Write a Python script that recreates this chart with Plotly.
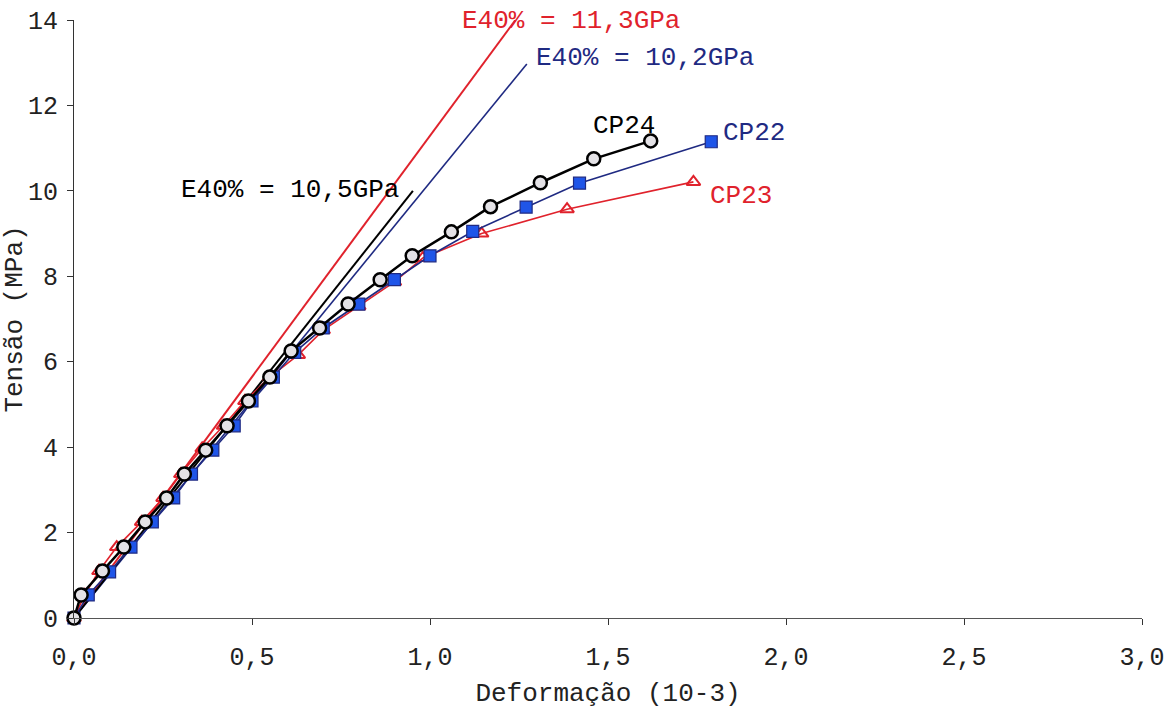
import plotly.graph_objects as go

# ---- data (strain in 10^-3, stress in MPa) ----
cp24_x = [0, 0.02, 0.08, 0.14, 0.20, 0.26, 0.31, 0.37, 0.43, 0.49, 0.55, 0.61, 0.69, 0.77, 0.86, 0.95, 1.06, 1.17, 1.31, 1.46, 1.62]
cp24_y = [0, 0.54, 1.10, 1.66, 2.25, 2.81, 3.37, 3.93, 4.50, 5.08, 5.64, 6.25, 6.79, 7.35, 7.92, 8.48, 9.04, 9.63, 10.19, 10.75, 11.17]

cp22_x = [0, 0.04, 0.10, 0.16, 0.22, 0.28, 0.33, 0.39, 0.45, 0.50, 0.56, 0.62, 0.70, 0.80, 0.90, 1.00, 1.12, 1.27, 1.42, 1.79]
cp22_y = [0, 0.54, 1.08, 1.66, 2.25, 2.81, 3.37, 3.93, 4.50, 5.08, 5.64, 6.22, 6.79, 7.35, 7.92, 8.48, 9.05, 9.62, 10.18, 11.15]

cp23_x = [0, 0.03, 0.07, 0.12, 0.19, 0.25, 0.30, 0.36, 0.42, 0.48, 0.55, 0.63, 0.70, 0.80, 0.90, 0.98, 1.145, 1.385, 1.74]
cp23_y = [0, 0.54, 1.10, 1.66, 2.25, 2.81, 3.37, 3.97, 4.50, 5.08, 5.64, 6.16, 6.74, 7.30, 7.87, 8.43, 9.00, 9.57, 10.21]

# secant modulus lines (E40%)
sec23_x = [0, 1.24]
sec23_y = [0, 14.0]
sec22_x = [0, 1.272]
sec22_y = [0, 12.97]
sec24_x = [0, 0.952]
sec24_y = [0, 10.0]

x_ticks = [0, 0.5, 1.0, 1.5, 2.0, 2.5, 3.0]
y_ticks = [0, 2, 4, 6, 8, 10, 12, 14]

RED = "#e0222c"
NAVY = "#1f2a82"
BLUE = "#1f55e8"
MONO = "Liberation Mono, Courier New, monospace"

fig = go.Figure()

# secant lines
fig.add_trace(go.Scatter(x=sec23_x, y=sec23_y, mode="lines", line=dict(color=RED, width=2), showlegend=False, cliponaxis=False))
fig.add_trace(go.Scatter(x=sec22_x, y=sec22_y, mode="lines", line=dict(color=NAVY, width=1.6), showlegend=False))
fig.add_trace(go.Scatter(x=sec24_x, y=sec24_y, mode="lines", line=dict(color="black", width=2), showlegend=False))

# curves
fig.add_trace(go.Scatter(
    x=cp23_x, y=cp23_y, mode="lines+markers", name="CP23",
    line=dict(color=RED, width=1.6),
    marker=dict(symbol="triangle-up-open", size=12, color=RED, line=dict(color=RED, width=2)),
    showlegend=False, cliponaxis=False))
fig.add_trace(go.Scatter(
    x=cp22_x, y=cp22_y, mode="lines+markers", name="CP22",
    line=dict(color=NAVY, width=1.6),
    marker=dict(symbol="square", size=12, color=BLUE, line=dict(color=NAVY, width=1.2)),
    showlegend=False, cliponaxis=False))
fig.add_trace(go.Scatter(
    x=cp24_x, y=cp24_y, mode="lines+markers", name="CP24",
    line=dict(color="black", width=2.5),
    marker=dict(symbol="circle", size=13, color="#e4e2e6", line=dict(color="black", width=2.5)),
    showlegend=False, cliponaxis=False))

ann_font = dict(family=MONO, size=26)
annotations = [
    dict(x=1.396, y=13.98 / 14.0, yref="paper", text="E40% = 11,3GPa", font=dict(ann_font, color=RED)),
    dict(x=1.604, y=13.11, yref="y", text="E40% = 10,2GPa", font=dict(ann_font, color=NAVY)),
    dict(x=0.607, y=10.02, yref="y", text="E40% = 10,5GPa", font=dict(ann_font, color="black")),
    dict(x=1.545, y=11.52, yref="y", text="CP24", font=dict(ann_font, color="black")),
    dict(x=1.91, y=11.36, yref="y", text="CP22", font=dict(ann_font, color=NAVY)),
    dict(x=1.874, y=9.88, yref="y", text="CP23", font=dict(ann_font, color=RED)),
]
for a in annotations:
    a.update(xref="x", showarrow=False, xanchor="center", yanchor="middle")

fig.update_layout(
    width=1171, height=714,
    paper_bgcolor="white", plot_bgcolor="white",
    margin=dict(l=74, r=29, t=20, b=96, autoexpand=False),
    separators=",.",
    annotations=annotations,
    xaxis=dict(
        range=[0, 3.0], tickvals=x_ticks, tickformat=".1f",
        showgrid=False, zeroline=False, showline=True, linecolor="#555", linewidth=1.2,
        ticks="outside", ticklen=6, tickcolor="#333", tickwidth=1.2,
        tickfont=dict(family=MONO, size=25, color="#222"),
        ticklabelstandoff=10, automargin=False,
        title=dict(text="Deformação (10-3)", font=dict(family=MONO, size=26, color="#222"), standoff=10),
    ),
    yaxis=dict(
        range=[0, 14], tickvals=y_ticks,
        showgrid=False, zeroline=False, showline=True, linecolor="#333", linewidth=1.2,
        ticks="outside", ticklen=6, tickcolor="#333", tickwidth=1.2,
        tickfont=dict(family=MONO, size=25, color="#222"),
        ticklabelstandoff=4, automargin=False,
        title=dict(text="Tensão (MPa)", font=dict(family=MONO, size=26, color="#222"), standoff=8),
    ),
)

fig.write_html("out.html", config={"displayModeBar": False},
               post_script="document.body.style.margin='0';")
